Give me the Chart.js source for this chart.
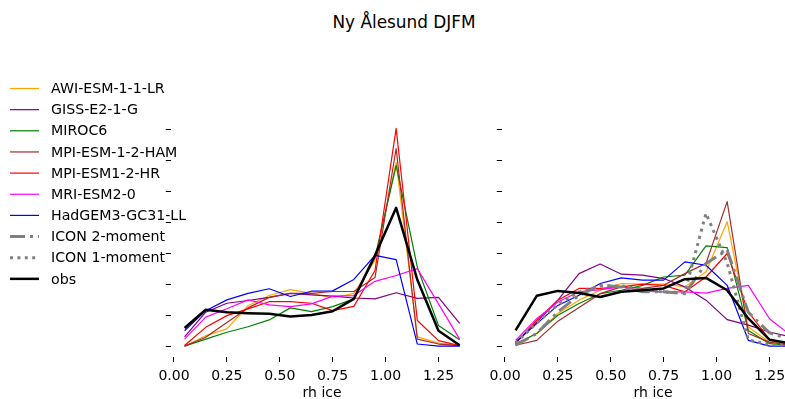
<!DOCTYPE html>
<html>
<head>
<meta charset="utf-8">
<script src="https://cdn.jsdelivr.net/npm/chart.js@4"></script>
<style>
  html, body { margin: 0; padding: 0; background: #fff; overflow: hidden; }
  #wrap { position: relative; width: 785px; height: 399px; }
  #title { position: absolute; left: 0; top: 12px; width: 808px; text-align: center;
           font: 16.9px "DejaVu Sans"; line-height: 20px; color: #000; }
  canvas { position: absolute; top: 0; }
  #left { left: 0; }
  #right { left: 490px; }
</style>
</head>
<body>
<div id="wrap">
  <div id="title">Ny Ålesund DJFM</div>
  <canvas id="left" width="490" height="399"></canvas>
  <canvas id="right" width="330" height="399"></canvas>
</div>
<script>
// bin centres of rh_ice
const rhIce = [0.05, 0.15, 0.25, 0.35, 0.45, 0.55, 0.65, 0.75, 0.85, 0.95, 1.05, 1.15, 1.25, 1.35];
const xTicks = [0, 0.25, 0.5, 0.75, 1.0, 1.25];
const yTicks = [0, 1, 2, 3, 4, 5, 6, 7];

const names = ['AWI-ESM-1-1-LR', 'GISS-E2-1-G', 'MIROC6', 'MPI-ESM-1-2-HAM', 'MPI-ESM1-2-HR',
               'MRI-ESM2-0', 'HadGEM3-GC31-LL', 'ICON 2-moment', 'ICON 1-moment', 'obs'];
const colors = ['#ffa500', '#800080', '#008000', '#a52a2a', '#ff0000',
                '#ff00ff', '#0000ff', '#808080', '#808080', '#000000'];
const widths = [1.2, 1.2, 1.2, 1.2, 1.2, 1.2, 1.2, 3, 3, 2.5];
const dashes = [[], [], [], [], [], [], [], [15, 5, 3, 5], [3, 4.4], []];

// left panel
const awiLeft    = [0.00, 0.34, 0.56, 1.31, 1.64, 1.83, 1.71, 1.56, 1.71, 2.78, 5.95, 0.30, 0.10, 0.02];
const gissLeft   = [0.30, 1.10, 1.39, 1.48, 1.58, 1.71, 1.66, 1.62, 1.56, 1.53, 1.73, 1.55, 1.58, 0.74];
const mirocLeft  = [0.00, 0.23, 0.45, 0.63, 0.85, 1.24, 1.12, 1.28, 1.53, 2.88, 5.85, 2.56, 0.67, 0.21];
const hamLeft    = [0.00, 0.29, 0.77, 1.24, 1.58, 1.71, 1.71, 1.77, 1.77, 2.22, 6.40, 0.23, 0.07, 0.02];
const hrLeft     = [0.02, 0.61, 0.99, 1.21, 1.44, 1.44, 1.39, 1.15, 1.29, 2.45, 7.05, 0.83, 0.18, 0.02];
const mriLeft    = [0.23, 0.94, 1.21, 1.50, 1.34, 1.28, 1.37, 1.62, 1.64, 2.10, 2.29, 2.51, 1.37, 0.23];
const hadgemLeft = [0.50, 1.15, 1.50, 1.71, 1.86, 1.61, 1.78, 1.79, 2.16, 2.94, 2.80, 0.07, 0.00, 0.00];
const obsLeft    = [0.59, 1.18, 1.10, 1.07, 1.05, 0.96, 1.01, 1.13, 1.53, 2.94, 4.48, 2.15, 0.50, 0.03];

// right panel
const awiRight    = [0.03, 0.42, 1.06, 1.49, 1.81, 2.03, 2.01, 2.01, 1.92, 2.41, 4.03, 0.62, 0.13, 0.08];
const gissRight   = [0.13, 0.78, 1.49, 2.35, 2.66, 2.33, 2.30, 2.19, 1.92, 1.49, 0.86, 0.68, 0.46, 0.30];
const mirocRight  = [0.08, 0.41, 1.00, 1.38, 1.70, 1.81, 1.97, 2.24, 2.30, 3.25, 3.19, 0.51, 0.08, 0.03];
const hamRight    = [0.03, 0.19, 0.81, 1.25, 1.70, 1.92, 1.87, 1.97, 2.35, 2.68, 4.68, 0.41, 0.13, 0.03];
const hrRight     = [0.08, 0.84, 1.49, 1.87, 1.87, 1.92, 2.01, 1.97, 1.76, 2.24, 3.00, 1.11, 0.21, 0.08];
const mriRight    = [0.19, 0.89, 1.43, 1.76, 1.83, 1.92, 1.78, 1.76, 1.76, 1.72, 1.87, 1.97, 0.89, 0.35];
const hadgemRight = [0.13, 0.73, 1.32, 1.65, 2.03, 2.21, 2.14, 2.14, 2.73, 2.62, 1.97, 0.19, 0.00, 0.00];
const icon2Right  = [0.03, 0.41, 1.11, 1.65, 1.97, 1.92, 1.76, 1.76, 1.70, 2.68, 3.11, 1.10, 0.43, 0.22];
const icon1Right  = [0.10, 0.75, 1.35, 1.75, 1.95, 1.95, 1.85, 1.75, 1.75, 4.30, 2.70, 0.20, 0.05, 0.03];
const obsRight    = [0.51, 1.63, 1.79, 1.72, 1.59, 1.76, 1.81, 1.87, 2.17, 2.21, 1.81, 0.90, 0.21, 0.09];

const leftSeries  = [awiLeft, gissLeft, mirocLeft, hamLeft, hrLeft, mriLeft, hadgemLeft, null, null, obsLeft];
const rightSeries = [awiRight, gissRight, mirocRight, hamRight, hrRight, mriRight, hadgemRight, icon2Right, icon1Right, obsRight];

Chart.defaults.font.family = 'DejaVu Sans';
Chart.defaults.color = '#000';

function makeDatasets(series) {
    const sets = [];
    series.forEach((vals, i) => {
        if (!vals) return;
        sets.push({
            label: names[i],
            data: rhIce.map((x, j) => ({ x: x, y: vals[j] })),
            borderColor: colors[i],
            borderWidth: widths[i],
            borderDash: dashes[i],
            borderJoinStyle: 'round',
            pointRadius: 0,
            tension: 0,
            fill: false,
            order: names.length - i
        });
    });
    return sets;
}

const tickGrid = { drawOnChartArea: false, drawTicks: true, tickLength: 5, color: '#000', lineWidth: 1 };

function scales() {
    return {
        x: {
            type: 'linear', min: -0.015, max: 1.415,
            afterBuildTicks: s => { s.ticks = xTicks.map(v => ({ value: v })); },
            ticks: { callback: v => v.toFixed(2), font: { size: 14 }, color: '#000', padding: 6,
                     maxRotation: 0, autoSkip: false },
            grid: tickGrid,
            border: { display: false },
            title: { display: true, text: 'rh ice', font: { size: 14 }, color: '#000',
                     padding: { top: 0, bottom: -3 } },
            // labels may hang past the plot edges, so don't let them push the plot inwards
            afterFit: s => { s.height = 42; s.paddingLeft = 0; s.paddingRight = 0; }
        },
        y: {
            type: 'linear', min: -0.35, max: 7.42,
            afterBuildTicks: s => { s.ticks = yTicks.map(v => ({ value: v })); },
            ticks: { display: false },
            grid: tickGrid,
            border: { display: false },
            afterFit: s => { s.width = 6; }
        }
    };
}

// legend sits to the left of the first panel, on top of its ticks
const sideLegend = {
    id: 'sideLegend',
    afterDraw(chart) {
        const ctx = chart.ctx;
        ctx.save();
        ctx.font = '14.2px "DejaVu Sans"';
        ctx.textBaseline = 'middle';
        names.forEach((name, i) => {
            const y = 88.5 + i * 21.15;
            ctx.beginPath();
            ctx.strokeStyle = colors[i];
            ctx.lineWidth = widths[i];
            ctx.setLineDash(dashes[i]);
            ctx.moveTo(10, y);
            ctx.lineTo(39, y);
            ctx.stroke();
            ctx.setLineDash([]);
            ctx.fillStyle = '#000';
            ctx.fillText(name, 51, y + 1);
        });
        ctx.restore();
    }
};

function panel(id, series, padding, plugins) {
    return new Chart(document.getElementById(id), {
        type: 'line',
        data: { datasets: makeDatasets(series) },
        options: {
            responsive: false,
            animation: false,
            layout: { padding: padding },
            plugins: { legend: { display: false }, tooltip: { enabled: false } },
            scales: scales()
        },
        plugins: plugins
    });
}

panel('left', leftSeries, { left: 164.8, right: 16.6, top: 117, bottom: 0 }, [sideLegend]);
panel('right', rightSeries, { left: 5.8, right: 15.6, top: 117, bottom: 0 }, []);
</script>
</body>
</html>
